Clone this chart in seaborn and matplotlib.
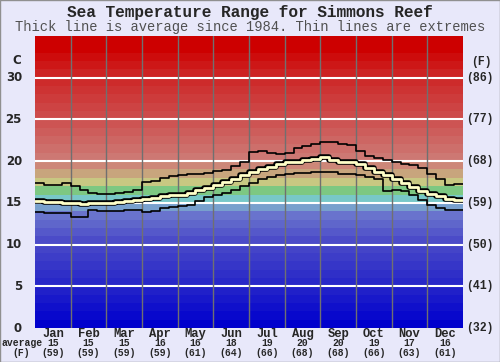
import numpy as np
import pandas as pd
import matplotlib
matplotlib.use("Agg")
import matplotlib.pyplot as plt
import matplotlib.transforms as mtransforms
from matplotlib.patches import Rectangle
import seaborn as sns

# ── data ─────────────────────────────────────────────────────────────────────

months = ["Jan", "Feb", "Mar", "Apr", "May", "Jun",
          "Jul", "Aug", "Sep", "Oct", "Nov", "Dec"]
avg_c_labels = [15, 15, 15, 16, 16, 18, 19, 20, 20, 19, 17, 16]
avg_f_labels = [59, 59, 59, 59, 61, 64, 66, 68, 68, 66, 63, 61]

c_ticks = [0, 5, 10, 15, 20, 25, 30]
f_labels = ["(32)", "(41)", "(50)", "(59)", "(68)", "(77)", "(86)"]

# quarter-month steps, Jan..Dec
max_temp = [17.4, 17.2, 17.2, 17.4,  17.05, 16.6, 16.2, 16.05,
            16.1, 16.2, 16.3, 16.5,  17.5, 17.6, 18.0, 18.2,
            18.3, 18.4, 18.5, 18.6,  18.8, 18.9, 19.4, 19.9,
            21.1, 21.2, 21.0, 20.9,  21.0, 21.6, 21.8, 22.0,
            22.3, 22.3, 22.0, 21.9,  21.2, 20.6, 20.4, 20.1,
            19.9, 19.7, 19.5, 19.2,  18.5, 17.8, 17.2, 17.3]
avg_temp = [15.2, 15.1, 15.1, 15.0,  14.95, 14.9, 14.95, 15.0,
            15.0, 15.1, 15.2, 15.3,  15.45, 15.6, 15.8, 15.95,
            16.0, 16.2, 16.5, 16.8,  17.1, 17.5, 17.9, 18.3,
            18.7, 19.0, 19.3, 19.6,  19.85, 19.95, 20.1, 20.25,
            20.45, 20.1, 19.95, 19.85,  19.6, 19.2, 18.7, 18.3,
            17.9, 17.4, 16.9, 16.4,  16.1, 15.8, 15.5, 15.3]
min_temp = [13.85, 13.8, 13.8, 13.8,  13.35, 13.3, 14.1, 14.0,
            14.0, 14.0, 14.1, 14.2,  13.9, 14.0, 14.4, 14.5,
            14.6, 14.8, 15.2, 15.7,  15.9, 16.2, 16.5, 17.0,
            17.4, 17.9, 18.1, 18.3,  18.45, 18.55, 18.6, 18.65,
            18.75, 18.7, 18.5, 18.45,  18.3, 18.1, 17.8, 16.4,
            16.6, 16.4, 15.9, 15.3,  14.8, 14.4, 14.1, 14.15]

# ── style ────────────────────────────────────────────────────────────────────

sns.set_theme(style="white")
plt.rcParams["font.family"] = ["DejaVu Sans"]
MONO = "Liberation Mono"
BG = "#e8e8fa"

# band colour anchors (degree C -> rgb)
band_anchor_t = [0, 5, 10, 13, 14, 15, 16, 17, 18, 19, 20, 25, 30, 33, 35]
band_anchor_rgb = [(0, 0, 205), (40, 40, 200), (75, 75, 200), (105, 115, 205),
                   (120, 160, 205), (120, 200, 200), (125, 200, 130), (200, 200, 130),
                   (200, 165, 125), (205, 135, 120), (205, 120, 115), (205, 75, 75),
                   (205, 35, 35), (205, 0, 0), (205, 0, 0)]


def band_color(d):
    rgb = np.array(band_anchor_rgb, dtype=float)
    return tuple(np.interp(d, band_anchor_t, rgb[:, i]) / 255 for i in range(3))


def series_frame(values):
    x = np.arange(len(values) + 1) / 4
    y = np.append(values, values[-1])
    return pd.DataFrame({"month": x, "temp": y})


# ── figure ───────────────────────────────────────────────────────────────────

fig = plt.figure(figsize=(5, 3.62), dpi=100, facecolor=BG)
ax = fig.add_axes([35 / 500, 34 / 362, 428 / 500, 292 / 362])
ax.set_xlim(0, 12)
ax.set_ylim(0, 35)

for d in range(35):
    ax.axhspan(d, d + 1, color=band_color(d), lw=0, zorder=0)
for t in c_ticks[1:]:
    ax.axhline(t, color="white", lw=1.5, zorder=1)
for m in range(1, 12):
    ax.axvline(m, color="#707070", lw=1, zorder=1)

sns.lineplot(data=series_frame(max_temp), x="month", y="temp", drawstyle="steps-post",
             estimator=None, color="black", lw=1.2, ax=ax, zorder=3)
sns.lineplot(data=series_frame(min_temp), x="month", y="temp", drawstyle="steps-post",
             estimator=None, color="black", lw=1.2, ax=ax, zorder=3)
avg_df = series_frame(avg_temp)
sns.lineplot(data=avg_df, x="month", y="temp", drawstyle="steps-post",
             estimator=None, color="black", lw=4.0, ax=ax, zorder=4)
sns.lineplot(data=avg_df, x="month", y="temp", drawstyle="steps-post",
             estimator=None, color="#ffffc8", lw=2.0, ax=ax, zorder=5)

ax.set_xticks([])
ax.set_yticks([])
ax.set_xlabel("")
ax.set_ylabel("")
for s in ax.spines.values():
    s.set_visible(False)

# axis labels
ytrans = mtransforms.blended_transform_factory(fig.transFigure, ax.transData)
for t, fl in zip(c_ticks, f_labels):
    fig.text(22 / 500, t, str(t), transform=ytrans, ha="right", va="center",
             fontsize=8.5, fontweight="bold")
    fig.text(466 / 500, t, fl, transform=ytrans, ha="left", va="center",
             fontsize=8.3, fontweight="bold", family=MONO)
fig.text(17 / 500, 1 - 61 / 362, "C", ha="center", va="center",
         fontsize=8.5, fontweight="bold")
fig.text(481 / 500, 1 - 62 / 362, "(F)", ha="center", va="center",
         fontsize=8.3, fontweight="bold", family=MONO)

xtrans = mtransforms.blended_transform_factory(ax.transData, fig.transFigure)
for i, (m, c, f) in enumerate(zip(months, avg_c_labels, avg_f_labels)):
    fig.text(i + 0.5, 1 - 334 / 362, m, transform=xtrans, ha="center", va="center",
             fontsize=8.7, fontweight="bold", family=MONO)
    fig.text(i + 0.5, 1 - 343.5 / 362, str(c), transform=xtrans, ha="center", va="center",
             fontsize=7, fontweight="bold", family=MONO)
    fig.text(i + 0.5, 1 - 352.5 / 362, f"({f})", transform=xtrans, ha="center", va="center",
             fontsize=7, fontweight="bold", family=MONO)
fig.text(22 / 500, 1 - 343.5 / 362, "average", ha="center", va="center",
         fontsize=7, fontweight="bold", family=MONO)
fig.text(21 / 500, 1 - 352.5 / 362, "(F)", ha="center", va="center",
         fontsize=7, fontweight="bold", family=MONO)

fig.text(0.5, 1 - 12 / 362, "Sea Temperature Range for Simmons Reef", ha="center",
         va="center", fontsize=11.6, fontweight="bold", family=MONO)
fig.text(0.5, 1 - 27 / 362, "Thick line is average since 1984. Thin lines are extremes",
         ha="center", va="center", fontsize=9.9, color="#505050", family=MONO)

fig.patches.append(Rectangle((0, 0), 1, 1, transform=fig.transFigure, fill=False,
                             edgecolor="#909090", lw=1))

fig.savefig("out.png", dpi=100, facecolor=BG)
